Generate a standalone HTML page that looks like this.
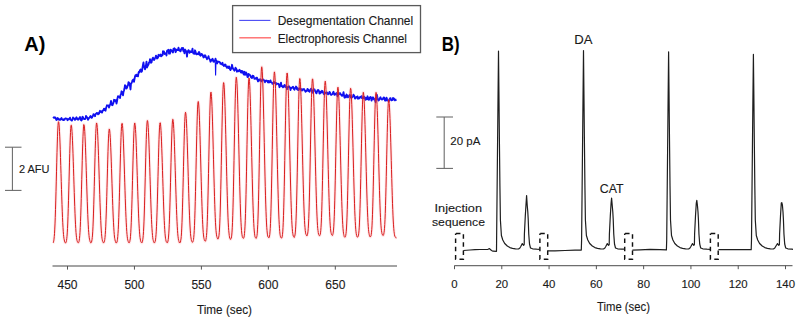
<!DOCTYPE html>
<html><head><meta charset="utf-8"><style>
html,body{margin:0;padding:0;background:#fff;width:800px;height:321px;overflow:hidden}
svg{display:block}
text{font-family:"Liberation Sans", sans-serif}
</style></head><body>
<svg width="800" height="321" viewBox="0 0 800 321">
<rect width="800" height="321" fill="#fff"/>
<text x="24.3" y="51.2" font-size="20" text-anchor="start" font-weight="bold" fill="#000">A)</text>
<rect x="232.6" y="5.6" width="187.9" height="47" fill="none" stroke="#5a5a5a" stroke-width="1.3"/>
<line x1="239.2" y1="20.4" x2="270.4" y2="20.4" stroke="#4848f4" stroke-width="1.1"/>
<line x1="239.3" y1="37.8" x2="271" y2="37.8" stroke="#ff6a6a" stroke-width="1.4"/>
<text x="277.7" y="24.6" font-size="12.2" text-anchor="start" font-weight="normal" fill="#1a1a1a" textLength="135.5" lengthAdjust="spacingAndGlyphs" stroke="#1a1a1a" stroke-width="0.12">Desegmentation Channel</text>
<text x="277.7" y="42.6" font-size="12.2" text-anchor="start" font-weight="normal" fill="#1a1a1a" textLength="129.3" lengthAdjust="spacingAndGlyphs" stroke="#1a1a1a" stroke-width="0.12">Electrophoresis Channel</text>
<g stroke="#666" stroke-width="1.05" fill="none"><line x1="12.4" y1="147.2" x2="12.4" y2="190.4"/><line x1="5" y1="147.2" x2="21.5" y2="147.2"/><line x1="5" y1="190.4" x2="21.5" y2="190.4"/></g>
<text x="19" y="173" font-size="11.2" text-anchor="start" font-weight="normal" fill="#1a1a1a" textLength="30.5" lengthAdjust="spacingAndGlyphs" stroke="#1a1a1a" stroke-width="0.12">2 AFU</text>
<line x1="52.5" y1="266.1" x2="397" y2="266.1" stroke="#858585" stroke-width="1.5"/>
<line x1="67.50" y1="266" x2="67.50" y2="269.6" stroke="#555" stroke-width="1"/>
<text x="67.5" y="288.8" font-size="12" text-anchor="middle" font-weight="normal" fill="#1a1a1a" stroke="#1a1a1a" stroke-width="0.12">450</text>
<line x1="134.45" y1="266" x2="134.45" y2="269.6" stroke="#555" stroke-width="1"/>
<text x="134.45" y="288.8" font-size="12" text-anchor="middle" font-weight="normal" fill="#1a1a1a" stroke="#1a1a1a" stroke-width="0.12">500</text>
<line x1="201.40" y1="266" x2="201.40" y2="269.6" stroke="#555" stroke-width="1"/>
<text x="201.4" y="288.8" font-size="12" text-anchor="middle" font-weight="normal" fill="#1a1a1a" stroke="#1a1a1a" stroke-width="0.12">550</text>
<line x1="268.35" y1="266" x2="268.35" y2="269.6" stroke="#555" stroke-width="1"/>
<text x="268.35" y="288.8" font-size="12" text-anchor="middle" font-weight="normal" fill="#1a1a1a" stroke="#1a1a1a" stroke-width="0.12">600</text>
<line x1="335.30" y1="266" x2="335.30" y2="269.6" stroke="#555" stroke-width="1"/>
<text x="335.3" y="288.8" font-size="12" text-anchor="middle" font-weight="normal" fill="#1a1a1a" stroke="#1a1a1a" stroke-width="0.12">650</text>
<text x="197" y="314" font-size="12" text-anchor="start" font-weight="normal" fill="#1a1a1a" textLength="55" lengthAdjust="spacingAndGlyphs" stroke="#1a1a1a" stroke-width="0.12">Time (sec)</text>
<path d="M53.0,118.1 L53.5,117.7 L54.0,117.3 L54.5,117.8 L55.0,117.3 L55.5,118.1 L56.0,119.0 L56.5,120.0 L57.0,118.9 L57.5,118.0 L58.0,118.3 L58.5,119.6 L59.0,119.2 L59.5,119.7 L60.0,120.0 L60.5,119.0 L61.0,118.7 L61.5,118.0 L62.0,119.4 L62.5,119.7 L63.0,119.5 L63.5,120.1 L64.0,119.1 L64.5,119.7 L65.0,118.7 L65.5,118.4 L66.0,118.6 L66.5,118.7 L67.0,118.7 L67.5,120.2 L68.0,119.7 L68.5,119.4 L69.0,118.8 L69.5,118.5 L70.0,117.6 L70.5,119.7 L71.0,119.8 L71.5,120.6 L72.0,120.5 L72.5,119.0 L73.0,117.5 L73.5,118.1 L74.0,118.3 L74.5,119.3 L75.0,119.9 L75.5,118.5 L76.0,118.9 L76.5,117.3 L77.0,118.4 L77.5,119.1 L78.0,119.8 L78.5,119.5 L79.0,118.6 L79.5,117.8 L80.0,117.1 L80.5,118.6 L81.0,120.1 L81.5,120.5 L82.0,119.3 L82.5,116.8 L83.0,117.2 L83.5,118.7 L84.0,118.6 L84.5,119.0 L85.0,119.1 L85.5,118.7 L86.0,115.9 L86.5,117.2 L87.0,117.1 L87.5,117.9 L88.0,119.9 L88.5,118.9 L89.0,118.0 L89.5,117.6 L90.0,116.7 L90.5,116.0 L91.0,116.9 L91.5,117.8 L92.0,117.6 L92.5,116.2 L93.0,116.0 L93.5,114.1 L94.0,114.9 L94.5,114.9 L95.0,116.2 L95.5,114.1 L96.0,113.9 L96.5,113.2 L97.0,112.9 L97.5,113.5 L98.0,114.4 L98.5,113.3 L99.0,113.7 L99.5,112.0 L100.0,110.8 L100.5,112.0 L101.0,111.4 L101.5,111.3 L102.0,112.6 L102.5,111.1 L103.0,110.4 L103.5,110.0 L104.0,108.6 L104.5,110.0 L105.0,109.1 L105.5,110.7 L106.0,108.3 L106.5,106.8 L107.0,105.3 L107.5,105.7 L108.0,105.6 L108.5,105.4 L109.0,107.6 L109.5,105.9 L110.0,104.9 L110.5,103.7 L111.0,100.9 L111.5,103.3 L112.0,105.1 L112.5,105.2 L113.0,103.8 L113.5,102.6 L114.0,99.8 L114.5,99.9 L115.0,100.1 L115.5,101.3 L116.0,100.2 L116.5,103.5 L117.0,101.3 L117.5,98.2 L118.0,96.2 L118.5,96.3 L119.0,96.9 L119.5,96.4 L120.0,98.0 L120.5,95.1 L121.0,94.3 L121.5,91.3 L122.0,91.8 L122.5,93.0 L123.0,95.3 L123.5,91.8 L124.0,90.5 L124.5,88.6 L125.0,85.2 L125.5,85.6 L126.0,87.4 L126.5,88.5 L127.0,87.8 L127.5,86.2 L128.0,85.2 L128.5,82.1 L129.0,82.6 L129.5,84.5 L130.0,85.8 L130.5,89.5 L131.0,83.7 L131.5,83.1 L132.0,81.8 L132.5,80.3 L133.0,79.8 L133.5,79.5 L134.0,81.8 L134.5,79.1 L135.0,76.5 L135.5,75.2 L136.0,76.0 L136.5,74.6 L137.0,76.1 L137.5,75.2 L138.0,76.4 L138.5,72.9 L139.0,71.6 L139.5,72.2 L140.0,70.2 L140.5,69.4 L141.0,70.9 L141.5,71.9 L142.0,71.0 L142.5,67.6 L143.0,64.8 L143.5,62.5 L144.0,66.8 L144.5,67.6 L145.0,69.3 L145.5,66.6 L146.0,65.1 L146.5,61.7 L147.0,67.5 L147.5,66.2 L148.0,65.3 L148.5,64.5 L149.0,62.4 L149.5,62.3 L150.0,59.2 L150.5,61.1 L151.0,62.8 L151.5,62.5 L152.0,60.0 L152.5,58.7 L153.0,57.7 L153.5,59.3 L154.0,60.1 L154.5,59.3 L155.0,58.2 L155.5,57.0 L156.0,55.6 L156.5,56.6 L157.0,58.5 L157.5,57.5 L158.0,57.7 L158.5,54.8 L159.0,55.7 L159.5,55.9 L160.0,55.6 L160.5,54.5 L161.0,56.3 L161.5,56.1 L162.0,54.9 L162.5,55.2 L163.0,51.2 L163.5,52.3 L164.0,51.6 L164.5,54.0 L165.0,53.8 L165.5,53.3 L166.0,53.2 L166.5,55.5 L167.0,50.8 L167.5,50.3 L168.0,50.4 L168.5,49.8 L169.0,53.7 L169.5,53.0 L170.0,53.5 L170.5,49.6 L171.0,50.5 L171.5,50.2 L172.0,51.1 L172.5,52.1 L173.0,52.5 L173.5,48.8 L174.0,49.8 L174.5,48.3 L175.0,48.8 L175.5,52.2 L176.0,51.3 L176.5,49.7 L177.0,49.6 L177.5,50.0 L178.0,50.0 L178.5,47.7 L179.0,49.3 L179.5,50.6 L180.0,50.2 L180.5,51.4 L181.0,49.9 L181.5,48.5 L182.0,47.9 L182.5,49.5 L183.0,48.0 L183.5,51.4 L184.0,50.6 L184.5,53.4 L185.0,49.5 L185.5,50.2 L186.0,51.4 L186.5,52.2 L187.0,56.7 L187.5,51.1 L188.0,51.4 L188.5,50.1 L189.0,51.7 L189.5,52.9 L190.0,51.2 L190.5,51.8 L191.0,52.1 L191.5,52.0 L192.0,51.0 L192.5,48.7 L193.0,52.5 L193.5,53.5 L194.0,53.8 L194.5,53.8 L195.0,50.3 L195.5,51.5 L196.0,53.8 L196.5,54.3 L197.0,54.4 L197.5,53.5 L198.0,54.0 L198.5,54.3 L199.0,52.0 L199.5,52.8 L200.0,55.1 L200.5,55.7 L201.0,55.3 L201.5,53.9 L202.0,54.3 L202.5,54.7 L203.0,56.2 L203.5,57.5 L204.0,57.2 L204.5,55.7 L205.0,55.2 L205.5,55.9 L206.0,57.4 L206.5,57.9 L207.0,59.3 L207.5,57.8 L208.0,57.8 L208.5,56.2 L209.0,58.1 L209.5,59.2 L210.0,59.8 L210.5,61.7 L211.0,60.2 L211.5,60.6 L212.0,59.5 L212.5,58.7 L213.0,59.9 L213.5,61.7 L214.0,61.8 L214.5,61.2 L215.0,60.5 L215.5,58.7 L216.0,60.9 L216.5,60.5 L217.0,63.5 L217.5,62.5 L218.0,61.9 L218.5,61.6 L219.0,61.9 L219.5,61.9 L220.0,62.5 L220.5,63.9 L221.0,63.5 L221.5,63.7 L222.0,64.5 L222.5,62.8 L223.0,65.1 L223.5,65.0 L224.0,66.0 L224.5,64.9 L225.0,64.5 L225.5,64.6 L226.0,66.5 L226.5,66.8 L227.0,67.7 L227.5,66.5 L228.0,67.0 L228.5,68.1 L229.0,66.4 L229.5,66.9 L230.0,69.2 L230.5,70.1 L231.0,68.4 L231.5,68.5 L232.0,64.8 L232.5,67.0 L233.0,68.5 L233.5,69.2 L234.0,69.9 L234.5,70.7 L235.0,69.6 L235.5,67.7 L236.0,68.5 L236.5,69.5 L237.0,71.7 L237.5,71.1 L238.0,70.6 L238.5,71.3 L239.0,70.8 L239.5,69.8 L240.0,70.5 L240.5,71.7 L241.0,72.5 L241.5,71.0 L242.0,72.6 L242.5,71.1 L243.0,72.3 L243.5,74.0 L244.0,74.6 L244.5,71.8 L245.0,74.9 L245.5,74.3 L246.0,72.4 L246.5,73.2 L247.0,74.9 L247.5,77.1 L248.0,77.0 L248.5,74.0 L249.0,74.5 L249.5,74.7 L250.0,75.0 L250.5,76.2 L251.0,77.3 L251.5,77.5 L252.0,78.1 L252.5,75.6 L253.0,76.2 L253.5,76.0 L254.0,77.5 L254.5,78.8 L255.0,78.5 L255.5,78.3 L256.0,78.8 L256.5,77.7 L257.0,77.6 L257.5,79.9 L258.0,81.4 L258.5,79.6 L259.0,79.8 L259.5,80.6 L260.0,79.2 L260.5,79.6 L261.0,80.7 L261.5,81.3 L262.0,80.5 L262.5,79.7 L263.0,79.8 L263.5,79.5 L264.0,80.3 L264.5,80.9 L265.0,82.3 L265.5,80.9 L266.0,80.6 L266.5,80.9 L267.0,80.7 L267.5,81.6 L268.0,82.4 L268.5,80.9 L269.0,82.6 L269.5,81.8 L270.0,82.0 L270.5,80.5 L271.0,82.2 L271.5,82.5 L272.0,82.7 L272.5,83.8 L273.0,83.2 L273.5,83.2 L274.0,81.9 L274.5,82.9 L275.0,83.0 L275.5,82.9 L276.0,84.6 L276.5,83.2 L277.0,83.9 L277.5,83.8 L278.0,83.9 L278.5,83.8 L279.0,85.1 L279.5,87.2 L280.0,85.7 L280.5,84.8 L281.0,82.6 L281.5,86.1 L282.0,86.3 L282.5,86.2 L283.0,87.3 L283.5,87.0 L284.0,85.9 L284.5,85.0 L285.0,85.1 L285.5,87.1 L286.0,86.3 L286.5,87.2 L287.0,89.2 L287.5,87.1 L288.0,87.1 L288.5,86.5 L289.0,86.3 L289.5,87.4 L290.0,87.5 L290.5,90.0 L291.0,88.0 L291.5,88.1 L292.0,87.9 L292.5,87.0 L293.0,86.7 L293.5,87.9 L294.0,89.1 L294.5,89.8 L295.0,88.1 L295.5,87.8 L296.0,86.5 L296.5,87.1 L297.0,89.4 L297.5,88.2 L298.0,90.1 L298.5,90.0 L299.0,89.2 L299.5,88.3 L300.0,88.4 L300.5,88.8 L301.0,89.7 L301.5,89.2 L302.0,90.6 L302.5,89.7 L303.0,89.2 L303.5,89.2 L304.0,89.0 L304.5,90.3 L305.0,90.4 L305.5,91.8 L306.0,91.4 L306.5,91.0 L307.0,90.5 L307.5,88.9 L308.0,89.6 L308.5,91.0 L309.0,90.3 L309.5,91.8 L310.0,90.6 L310.5,89.7 L311.0,88.7 L311.5,90.1 L312.0,91.3 L312.5,92.7 L313.0,92.3 L313.5,89.1 L314.0,90.3 L314.5,89.4 L315.0,91.0 L315.5,91.4 L316.0,92.8 L316.5,93.3 L317.0,91.7 L317.5,90.3 L318.0,90.0 L318.5,90.1 L319.0,91.1 L319.5,93.5 L320.0,93.4 L320.5,91.7 L321.0,92.6 L321.5,92.4 L322.0,90.8 L322.5,91.0 L323.0,92.1 L323.5,93.4 L324.0,94.2 L324.5,93.9 L325.0,93.3 L325.5,92.8 L326.0,92.5 L326.5,92.9 L327.0,92.4 L327.5,93.9 L328.0,94.4 L328.5,93.2 L329.0,93.3 L329.5,91.9 L330.0,92.5 L330.5,94.4 L331.0,94.8 L331.5,94.8 L332.0,94.4 L332.5,93.7 L333.0,92.7 L333.5,91.8 L334.0,93.8 L334.5,94.9 L335.0,94.1 L335.5,94.3 L336.0,94.1 L336.5,93.0 L337.0,93.6 L337.5,96.3 L338.0,95.3 L338.5,93.9 L339.0,94.1 L339.5,94.0 L340.0,93.0 L340.5,94.5 L341.0,94.3 L341.5,94.8 L342.0,95.9 L342.5,95.7 L343.0,94.1 L343.5,92.2 L344.0,95.1 L344.5,97.7 L345.0,95.9 L345.5,96.7 L346.0,97.3 L346.5,94.5 L347.0,95.1 L347.5,96.1 L348.0,97.4 L348.5,97.0 L349.0,95.8 L349.5,95.0 L350.0,95.2 L350.5,96.2 L351.0,97.6 L351.5,97.7 L352.0,97.3 L352.5,97.1 L353.0,95.9 L353.5,94.6 L354.0,95.6 L354.5,96.3 L355.0,98.6 L355.5,97.3 L356.0,97.9 L356.5,97.0 L357.0,97.4 L357.5,96.4 L358.0,98.7 L358.5,97.6 L359.0,98.5 L359.5,98.2 L360.0,97.0 L360.5,97.1 L361.0,97.4 L361.5,96.1 L362.0,98.2 L362.5,98.4 L363.0,98.1 L363.5,97.7 L364.0,96.7 L364.5,98.2 L365.0,97.5 L365.5,99.9 L366.0,98.2 L366.5,97.8 L367.0,99.1 L367.5,96.3 L368.0,98.2 L368.5,99.7 L369.0,99.8 L369.5,98.0 L370.0,97.5 L370.5,97.0 L371.0,97.5 L371.5,100.6 L372.0,99.3 L372.5,98.7 L373.0,97.3 L373.5,98.0 L374.0,99.5 L374.5,98.9 L375.0,100.2 L375.5,102.1 L376.0,98.4 L376.5,99.1 L377.0,95.0 L377.5,98.3 L378.0,99.6 L378.5,100.5 L379.0,100.1 L379.5,99.3 L380.0,98.0 L380.5,97.2 L381.0,98.8 L381.5,99.0 L382.0,99.5 L382.5,99.4 L383.0,99.0 L383.5,97.6 L384.0,97.4 L384.5,98.3 L385.0,100.6 L385.5,100.3 L386.0,100.5 L386.5,97.7 L387.0,98.9 L387.5,100.6 L388.0,100.5 L388.5,100.6 L389.0,101.0 L389.5,99.2 L390.0,98.4 L390.5,98.1 L391.0,99.9 L391.5,100.4 L392.0,100.2 L392.5,99.9 L393.0,98.0 L393.5,99.2 L394.0,98.5 L394.5,99.8 L395.0,100.4 L395.5,99.6 L396.0,99.9 L396.5,99.6" fill="none" stroke="#1010f0" stroke-width="1.85" stroke-linejoin="round"/>
<path d="M215.3,62 L215.6,75.5 L215.9,63" fill="none" stroke="#1010f0" stroke-width="1.1"/>
<path d="M53.00,242.85 L53.25,242.70 L53.50,241.86 L53.75,240.87 L54.00,239.13 L54.25,236.61 L54.50,233.70 L54.75,229.10 L55.00,223.94 L55.25,217.35 L55.50,209.41 L55.75,200.96 L56.00,191.72 L56.25,181.87 L56.50,171.81 L56.75,162.19 L57.00,152.57 L57.25,143.97 L57.50,136.24 L57.75,130.10 L58.00,125.31 L58.25,122.56 L58.50,121.69 L58.75,122.25 L59.00,124.08 L59.25,127.10 L59.50,131.54 L59.75,136.85 L60.00,142.93 L60.25,149.78 L60.50,157.47 L60.75,165.65 L61.00,173.34 L61.25,181.58 L61.50,189.61 L61.75,196.89 L62.00,204.58 L62.25,211.20 L62.50,217.61 L62.75,222.74 L63.00,227.30 L63.25,231.26 L63.50,234.46 L63.75,236.80 L64.00,238.73 L64.25,239.90 L64.50,241.06 L64.75,241.95 L65.00,242.66 L65.25,242.80 L65.50,242.84 L65.75,242.86 L66.00,242.44 L66.25,241.81 L66.50,240.58 L66.75,238.68 L67.00,236.29 L67.25,232.92 L67.50,228.55 L67.75,223.05 L68.00,216.33 L68.25,208.55 L68.50,200.30 L68.75,190.95 L69.00,181.69 L69.25,171.96 L69.50,162.15 L69.75,153.44 L70.00,145.21 L70.25,137.96 L70.50,132.43 L70.75,128.29 L71.00,125.42 L71.25,125.18 L71.50,125.96 L71.75,128.05 L72.00,131.38 L72.25,135.47 L72.50,140.80 L72.75,146.92 L73.00,153.77 L73.25,161.24 L73.50,168.76 L73.75,176.72 L74.00,184.86 L74.25,192.50 L74.50,200.00 L74.75,206.65 L75.00,213.24 L75.25,219.07 L75.50,224.24 L75.75,228.51 L76.00,232.36 L76.25,235.12 L76.50,237.40 L76.75,239.10 L77.00,240.45 L77.25,241.20 L77.50,242.12 L77.75,242.51 L78.00,242.75 L78.25,242.80 L78.50,242.71 L78.75,242.33 L79.00,241.51 L79.25,240.17 L79.50,238.39 L79.75,235.65 L80.00,232.26 L80.25,227.45 L80.50,221.42 L80.75,215.12 L81.00,207.13 L81.25,198.30 L81.50,189.16 L81.75,179.39 L82.00,170.09 L82.25,160.34 L82.50,151.07 L82.75,143.30 L83.00,136.25 L83.25,131.12 L83.50,126.83 L83.75,124.60 L84.00,124.71 L84.25,125.77 L84.50,128.09 L84.75,131.33 L85.00,136.27 L85.25,141.97 L85.50,147.76 L85.75,155.20 L86.00,162.42 L86.25,170.66 L86.50,178.31 L86.75,186.12 L87.00,194.03 L87.25,201.32 L87.50,208.06 L87.75,214.59 L88.00,220.07 L88.25,224.84 L88.50,229.64 L88.75,232.77 L89.00,235.52 L89.25,237.81 L89.50,239.14 L89.75,240.35 L90.00,241.34 L90.25,241.99 L90.50,242.53 L90.75,242.93 L91.00,242.71 L91.25,242.64 L91.50,242.13 L91.75,240.99 L92.00,239.81 L92.25,237.61 L92.50,235.07 L92.75,231.16 L93.00,226.19 L93.25,219.96 L93.50,213.07 L93.75,204.84 L94.00,196.15 L94.25,186.52 L94.50,176.58 L94.75,166.98 L95.00,157.39 L95.25,148.26 L95.50,140.55 L95.75,133.59 L96.00,128.35 L96.25,124.88 L96.50,123.04 L96.75,123.16 L97.00,124.59 L97.25,127.45 L97.50,131.21 L97.75,135.77 L98.00,141.81 L98.25,148.12 L98.50,155.38 L98.75,163.12 L99.00,170.98 L99.25,179.35 L99.50,187.02 L99.75,194.56 L100.00,202.33 L100.25,208.96 L100.50,215.27 L100.75,220.48 L101.00,225.96 L101.25,230.06 L101.50,233.45 L101.75,236.17 L102.00,238.33 L102.25,239.60 L102.50,240.87 L102.75,241.45 L103.00,242.12 L103.25,242.74 L103.50,242.84 L103.75,242.56 L104.00,242.54 L104.25,241.88 L104.50,240.84 L104.75,239.60 L105.00,237.41 L105.25,234.36 L105.50,230.60 L105.75,226.17 L106.00,219.74 L106.25,213.06 L106.50,205.26 L106.75,196.67 L107.00,187.28 L107.25,178.05 L107.50,168.79 L107.75,159.91 L108.00,151.37 L108.25,143.94 L108.50,138.13 L108.75,133.49 L109.00,130.36 L109.25,128.94 L109.50,129.45 L109.75,130.95 L110.00,133.76 L110.25,137.23 L110.50,142.20 L110.75,147.80 L111.00,154.01 L111.25,161.15 L111.50,168.46 L111.75,175.97 L112.00,183.74 L112.25,191.02 L112.50,198.54 L112.75,205.54 L113.00,211.95 L113.25,217.92 L113.50,222.77 L113.75,227.21 L114.00,231.25 L114.25,234.37 L114.50,237.05 L114.75,238.67 L115.00,239.82 L115.25,241.08 L115.50,241.59 L115.75,242.05 L116.00,243.03 L116.25,242.84 L116.50,242.83 L116.75,242.48 L117.00,242.01 L117.25,240.71 L117.50,239.23 L117.75,236.57 L118.00,233.30 L118.25,229.48 L118.50,224.13 L118.75,217.52 L119.00,209.96 L119.25,201.50 L119.50,192.20 L119.75,182.85 L120.00,172.84 L120.25,163.04 L120.50,153.67 L120.75,145.18 L121.00,137.59 L121.25,131.46 L121.50,126.60 L121.75,124.03 L122.00,123.33 L122.25,123.55 L122.50,125.49 L122.75,128.73 L123.00,132.94 L123.25,138.10 L123.50,143.87 L123.75,151.02 L124.00,158.17 L124.25,166.02 L124.50,174.23 L124.75,182.16 L125.00,190.24 L125.25,198.23 L125.50,205.07 L125.75,211.73 L126.00,217.51 L126.25,222.87 L126.50,227.39 L126.75,231.30 L127.00,234.32 L127.25,236.81 L127.50,238.72 L127.75,239.95 L128.00,240.88 L128.25,241.62 L128.50,242.43 L128.75,242.70 L129.00,242.95 L129.25,242.84 L129.50,242.24 L129.75,241.66 L130.00,240.17 L130.25,238.99 L130.50,236.34 L130.75,232.71 L131.00,228.11 L131.25,222.76 L131.50,215.74 L131.75,208.19 L132.00,199.81 L132.25,190.41 L132.50,180.58 L132.75,170.91 L133.00,160.89 L133.25,151.87 L133.50,143.35 L133.75,136.04 L134.00,130.37 L134.25,125.91 L134.50,123.90 L134.75,122.94 L135.00,124.21 L135.25,125.87 L135.50,129.44 L135.75,133.58 L136.00,138.96 L136.25,145.45 L136.50,152.48 L136.75,159.69 L137.00,167.91 L137.25,175.65 L137.50,183.82 L137.75,191.73 L138.00,199.32 L138.25,206.07 L138.50,213.12 L138.75,218.85 L139.00,223.88 L139.25,228.22 L139.50,231.80 L139.75,234.82 L140.00,237.41 L140.25,239.00 L140.50,240.15 L140.75,241.18 L141.00,242.18 L141.25,242.39 L141.50,242.64 L141.75,243.00 L142.00,242.70 L142.25,242.17 L142.50,241.26 L142.75,239.82 L143.00,237.97 L143.25,235.35 L143.50,231.70 L143.75,227.00 L144.00,221.10 L144.25,214.00 L144.50,205.92 L144.75,196.78 L145.00,186.99 L145.25,177.22 L145.50,167.06 L145.75,157.25 L146.00,148.02 L146.25,139.50 L146.50,132.37 L146.75,126.84 L147.00,122.90 L147.25,120.65 L147.50,120.58 L147.75,121.63 L148.00,123.93 L148.25,127.71 L148.50,132.70 L148.75,138.03 L149.00,144.86 L149.25,152.13 L149.50,159.89 L149.75,167.62 L150.00,176.27 L150.25,184.18 L150.50,192.12 L150.75,199.76 L151.00,207.04 L151.25,213.52 L151.50,219.36 L151.75,224.72 L152.00,228.79 L152.25,232.36 L152.50,235.52 L152.75,237.74 L153.00,239.46 L153.25,240.35 L153.50,241.56 L153.75,242.13 L154.00,242.78 L154.25,242.57 L154.50,242.81 L154.75,242.52 L155.00,241.80 L155.25,241.04 L155.50,239.93 L155.75,237.67 L156.00,234.78 L156.25,231.19 L156.50,226.28 L156.75,220.24 L157.00,212.84 L157.25,204.83 L157.50,196.05 L157.75,186.25 L158.00,176.37 L158.25,166.71 L158.50,157.23 L158.75,147.86 L159.00,139.64 L159.25,133.06 L159.50,127.87 L159.75,124.45 L160.00,122.85 L160.25,122.81 L160.50,124.11 L160.75,126.86 L161.00,130.47 L161.25,135.44 L161.50,141.14 L161.75,148.22 L162.00,155.16 L162.25,162.60 L162.50,170.55 L162.75,178.71 L163.00,186.55 L163.25,194.48 L163.50,201.89 L163.75,209.05 L164.00,215.16 L164.25,220.74 L164.50,225.55 L164.75,229.72 L165.00,233.29 L165.25,235.97 L165.50,238.24 L165.75,239.51 L166.00,240.89 L166.25,241.60 L166.50,242.17 L166.75,242.28 L167.00,242.59 L167.25,242.87 L167.50,242.69 L167.75,241.92 L168.00,241.00 L168.25,239.30 L168.50,237.07 L168.75,233.91 L169.00,230.01 L169.25,224.63 L169.50,218.10 L169.75,210.55 L170.00,202.16 L170.25,192.80 L170.50,182.73 L170.75,172.95 L171.00,162.60 L171.25,152.82 L171.50,144.01 L171.75,135.95 L172.00,129.14 L172.25,124.17 L172.50,120.65 L172.75,119.34 L173.00,119.48 L173.25,121.68 L173.50,124.15 L173.75,128.64 L174.00,133.59 L174.25,139.68 L174.50,146.70 L174.75,154.30 L175.00,162.31 L175.25,170.71 L175.50,178.80 L175.75,187.08 L176.00,194.79 L176.25,202.51 L176.50,209.41 L176.75,215.67 L177.00,221.35 L177.25,226.23 L177.50,230.38 L177.75,233.75 L178.00,236.25 L178.25,238.22 L178.50,239.92 L178.75,240.64 L179.00,241.59 L179.25,242.50 L179.50,242.23 L179.75,242.69 L180.00,242.83 L180.25,242.13 L180.50,242.06 L180.75,240.14 L181.00,239.00 L181.25,236.48 L181.50,232.88 L181.75,228.08 L182.00,222.33 L182.25,215.09 L182.50,207.15 L182.75,197.66 L183.00,187.79 L183.25,177.44 L183.50,166.36 L183.75,155.83 L184.00,145.74 L184.25,136.17 L184.50,128.36 L184.75,121.54 L185.00,116.28 L185.25,113.43 L185.50,112.28 L185.75,112.99 L186.00,115.14 L186.25,118.37 L186.50,123.19 L186.75,128.61 L187.00,135.49 L187.25,142.77 L187.50,150.94 L187.75,159.20 L188.00,167.91 L188.25,176.56 L188.50,185.42 L188.75,193.76 L189.00,201.75 L189.25,208.86 L189.50,215.24 L189.75,220.94 L190.00,226.00 L190.25,230.09 L190.50,233.67 L190.75,236.22 L191.00,237.93 L191.25,239.40 L191.50,240.76 L191.75,241.36 L192.00,241.82 L192.25,242.35 L192.50,242.20 L192.75,242.08 L193.00,241.62 L193.25,240.57 L193.50,239.65 L193.75,237.31 L194.00,234.47 L194.25,230.42 L194.50,225.37 L194.75,218.67 L195.00,210.80 L195.25,201.45 L195.50,191.54 L195.75,180.38 L196.00,169.17 L196.25,157.54 L196.50,146.04 L196.75,135.50 L197.00,125.40 L197.25,116.87 L197.50,109.90 L197.75,104.87 L198.00,102.16 L198.25,101.49 L198.50,102.17 L198.75,105.02 L199.00,108.83 L199.25,114.08 L199.50,120.35 L199.75,127.44 L200.00,135.62 L200.25,144.86 L200.50,153.83 L200.75,163.00 L201.00,172.69 L201.25,181.80 L201.50,190.43 L201.75,198.69 L202.00,206.45 L202.25,213.62 L202.50,219.62 L202.75,224.77 L203.00,229.15 L203.25,232.65 L203.50,234.92 L203.75,237.18 L204.00,238.55 L204.25,239.53 L204.50,240.37 L204.75,240.93 L205.00,241.19 L205.25,241.03 L205.50,240.95 L205.75,240.77 L206.00,239.33 L206.25,237.67 L206.50,235.62 L206.75,232.33 L207.00,227.78 L207.25,221.68 L207.50,214.74 L207.75,205.85 L208.00,195.94 L208.25,185.09 L208.50,173.46 L208.75,161.40 L209.00,149.10 L209.25,137.02 L209.50,125.89 L209.75,115.60 L210.00,107.04 L210.25,99.81 L210.50,94.97 L210.75,92.74 L211.00,92.12 L211.25,93.68 L211.50,96.64 L211.75,100.95 L212.00,106.66 L212.25,113.83 L212.50,121.15 L212.75,130.39 L213.00,139.94 L213.25,149.33 L213.50,159.22 L213.75,169.18 L214.00,178.96 L214.25,187.68 L214.50,196.45 L214.75,204.27 L215.00,211.41 L215.25,217.49 L215.50,222.78 L215.75,226.92 L216.00,230.41 L216.25,232.92 L216.50,234.85 L216.75,236.31 L217.00,237.28 L217.25,237.86 L217.50,238.76 L217.75,238.77 L218.00,238.61 L218.25,238.76 L218.50,237.91 L218.75,237.04 L219.00,235.24 L219.25,232.70 L219.50,229.00 L219.75,223.90 L220.00,217.58 L220.25,209.99 L220.50,200.03 L220.75,189.77 L221.00,178.15 L221.25,165.46 L221.50,152.52 L221.75,140.12 L222.00,127.20 L222.25,115.86 L222.50,105.17 L222.75,96.27 L223.00,89.46 L223.25,84.84 L223.50,82.68 L223.75,82.66 L224.00,84.44 L224.25,87.87 L224.50,92.98 L224.75,99.23 L225.00,106.53 L225.25,115.19 L225.50,124.79 L225.75,134.70 L226.00,145.18 L226.25,155.67 L226.50,166.27 L226.75,176.57 L227.00,186.37 L227.25,195.28 L227.50,203.86 L227.75,210.91 L228.00,217.82 L228.25,222.92 L228.50,227.31 L228.75,230.70 L229.00,233.06 L229.25,235.45 L229.50,236.93 L229.75,238.21 L230.00,238.42 L230.25,239.34 L230.50,239.21 L230.75,239.31 L231.00,238.50 L231.25,238.20 L231.50,236.89 L231.75,235.09 L232.00,232.10 L232.25,227.82 L232.50,222.67 L232.75,215.67 L233.00,207.18 L233.25,197.32 L233.50,186.11 L233.75,173.68 L234.00,160.47 L234.25,147.10 L234.50,134.20 L234.75,121.30 L235.00,109.34 L235.25,98.77 L235.50,90.11 L235.75,83.46 L236.00,79.10 L236.25,77.25 L236.50,78.17 L236.75,80.09 L237.00,83.81 L237.25,89.09 L237.50,95.96 L237.75,104.20 L238.00,113.25 L238.25,122.97 L238.50,133.45 L238.75,144.17 L239.00,154.92 L239.25,166.02 L239.50,176.27 L239.75,186.43 L240.00,195.08 L240.25,203.47 L240.50,210.99 L240.75,217.19 L241.00,222.37 L241.25,226.80 L241.50,230.38 L241.75,233.01 L242.00,234.83 L242.25,236.33 L242.50,237.27 L242.75,237.80 L243.00,238.14 L243.25,238.26 L243.50,238.31 L243.75,238.00 L244.00,237.10 L244.25,235.82 L244.50,233.62 L244.75,230.38 L245.00,226.15 L245.25,220.72 L245.50,213.50 L245.75,204.99 L246.00,194.67 L246.25,183.45 L246.50,171.20 L246.75,158.17 L247.00,144.66 L247.25,131.60 L247.50,119.10 L247.75,107.41 L248.00,97.55 L248.25,89.36 L248.50,82.99 L248.75,79.57 L249.00,77.96 L249.25,78.82 L249.50,81.34 L249.75,85.40 L250.00,91.21 L250.25,98.15 L250.50,106.58 L250.75,115.59 L251.00,125.52 L251.25,135.87 L251.50,146.44 L251.75,157.44 L252.00,167.95 L252.25,178.47 L252.50,187.99 L252.75,197.18 L253.00,205.13 L253.25,212.29 L253.50,218.34 L253.75,223.48 L254.00,227.71 L254.25,231.01 L254.50,233.20 L254.75,235.16 L255.00,236.74 L255.25,237.22 L255.50,237.80 L255.75,238.08 L256.00,238.08 L256.25,238.34 L256.50,237.72 L256.75,236.83 L257.00,235.51 L257.25,233.19 L257.50,229.14 L257.75,224.54 L258.00,218.07 L258.25,210.02 L258.50,200.43 L258.75,189.27 L259.00,177.14 L259.25,163.64 L259.50,149.61 L259.75,135.55 L260.00,121.54 L260.25,108.24 L260.50,96.17 L260.75,85.96 L261.00,77.35 L261.25,71.18 L261.50,67.55 L261.75,66.79 L262.00,67.95 L262.25,71.17 L262.50,75.94 L262.75,81.92 L263.00,89.98 L263.25,99.05 L263.50,108.96 L263.75,119.54 L264.00,131.13 L264.25,142.35 L264.50,153.79 L264.75,165.09 L265.00,176.08 L265.25,186.40 L265.50,195.80 L265.75,204.09 L266.00,211.29 L266.25,217.71 L266.50,222.94 L266.75,227.28 L267.00,230.32 L267.25,233.04 L267.50,234.87 L267.75,235.98 L268.00,236.92 L268.25,237.29 L268.50,237.53 L268.75,237.73 L269.00,237.83 L269.25,237.30 L269.50,236.09 L269.75,234.69 L270.00,231.94 L270.25,228.56 L270.50,223.42 L270.75,216.79 L271.00,208.92 L271.25,199.11 L271.50,188.10 L271.75,175.85 L272.00,163.03 L272.25,149.38 L272.50,135.64 L272.75,122.19 L273.00,109.85 L273.25,98.18 L273.50,88.40 L273.75,80.97 L274.00,75.59 L274.25,72.53 L274.50,71.88 L274.75,73.63 L275.00,77.10 L275.25,81.94 L275.50,88.60 L275.75,95.93 L276.00,105.16 L276.25,114.82 L276.50,125.66 L276.75,136.45 L277.00,147.82 L277.25,158.73 L277.50,169.50 L277.75,179.96 L278.00,189.78 L278.25,198.66 L278.50,207.00 L278.75,214.03 L279.00,219.84 L279.25,224.57 L279.50,228.65 L279.75,231.60 L280.00,234.16 L280.25,235.61 L280.50,236.77 L280.75,237.43 L281.00,237.70 L281.25,238.12 L281.50,238.07 L281.75,238.04 L282.00,237.37 L282.25,236.11 L282.50,234.34 L282.75,231.88 L283.00,227.58 L283.25,222.30 L283.50,215.60 L283.75,207.17 L284.00,197.36 L284.25,186.28 L284.50,174.12 L284.75,160.42 L285.00,147.07 L285.25,133.43 L285.50,120.19 L285.75,107.82 L286.00,96.76 L286.25,87.66 L286.50,80.20 L286.75,75.35 L287.00,73.01 L287.25,73.13 L287.50,75.00 L287.75,78.78 L288.00,83.83 L288.25,90.51 L288.50,98.43 L288.75,107.34 L289.00,117.30 L289.25,127.83 L289.50,138.98 L289.75,149.95 L290.00,160.91 L290.25,171.80 L290.50,182.03 L290.75,191.18 L291.00,200.35 L291.25,207.82 L291.50,214.51 L291.75,220.36 L292.00,224.87 L292.25,228.45 L292.50,231.67 L292.75,233.24 L293.00,234.85 L293.25,236.00 L293.50,236.40 L293.75,236.97 L294.00,237.23 L294.25,237.47 L294.50,236.66 L294.75,236.08 L295.00,234.96 L295.25,232.94 L295.50,229.89 L295.75,226.11 L296.00,220.70 L296.25,213.92 L296.50,205.71 L296.75,195.97 L297.00,184.88 L297.25,172.84 L297.50,159.89 L297.75,146.94 L298.00,133.95 L298.25,121.32 L298.50,109.77 L298.75,99.36 L299.00,91.16 L299.25,84.75 L299.50,80.15 L299.75,78.51 L300.00,78.90 L300.25,81.29 L300.50,84.93 L300.75,90.14 L301.00,96.74 L301.25,104.63 L301.50,113.31 L301.75,123.21 L302.00,133.21 L302.25,143.94 L302.50,154.50 L302.75,165.15 L303.00,175.13 L303.25,184.91 L303.50,193.54 L303.75,201.88 L304.00,208.95 L304.25,215.23 L304.50,220.43 L304.75,224.82 L305.00,227.71 L305.25,230.59 L305.50,232.15 L305.75,233.86 L306.00,234.29 L306.25,235.09 L306.50,235.39 L306.75,236.04 L307.00,235.53 L307.25,235.38 L307.50,234.52 L307.75,233.02 L308.00,231.19 L308.25,228.32 L308.50,223.98 L308.75,218.57 L309.00,211.33 L309.25,202.88 L309.50,192.93 L309.75,181.92 L310.00,170.07 L310.25,157.11 L310.50,144.08 L310.75,131.09 L311.00,118.77 L311.25,107.80 L311.50,97.53 L311.75,89.45 L312.00,83.55 L312.25,79.79 L312.50,78.89 L312.75,79.08 L313.00,81.96 L313.25,86.07 L313.50,91.32 L313.75,98.25 L314.00,106.44 L314.25,115.61 L314.50,124.97 L314.75,135.13 L315.00,146.06 L315.25,156.73 L315.50,166.87 L315.75,176.63 L316.00,186.66 L316.25,195.18 L316.50,203.31 L316.75,210.14 L317.00,216.12 L317.25,221.15 L317.50,225.52 L317.75,228.70 L318.00,230.56 L318.25,232.49 L318.50,234.13 L318.75,234.69 L319.00,235.13 L319.25,235.68 L319.50,235.76 L319.75,235.64 L320.00,235.14 L320.25,234.30 L320.50,232.85 L320.75,230.77 L321.00,227.41 L321.25,223.08 L321.50,217.34 L321.75,210.35 L322.00,201.57 L322.25,191.53 L322.50,180.50 L322.75,168.47 L323.00,155.99 L323.25,143.13 L323.50,130.78 L323.75,118.81 L324.00,107.76 L324.25,98.33 L324.50,90.96 L324.75,85.43 L325.00,82.17 L325.25,81.21 L325.50,82.30 L325.75,85.37 L326.00,89.70 L326.25,95.40 L326.50,102.05 L326.75,110.47 L327.00,119.21 L327.25,129.02 L327.50,139.14 L327.75,149.31 L328.00,159.70 L328.25,169.63 L328.50,179.54 L328.75,188.56 L329.00,197.32 L329.25,204.84 L329.50,211.63 L329.75,217.25 L330.00,221.84 L330.25,225.80 L330.50,228.64 L330.75,230.99 L331.00,232.53 L331.25,233.46 L331.50,234.41 L331.75,234.95 L332.00,235.18 L332.25,235.47 L332.50,235.46 L332.75,234.70 L333.00,233.81 L333.25,232.06 L333.50,230.14 L333.75,226.85 L334.00,222.16 L334.25,216.75 L334.50,209.63 L334.75,200.89 L335.00,191.14 L335.25,180.18 L335.50,168.76 L335.75,156.25 L336.00,144.15 L336.25,132.50 L336.50,120.92 L336.75,110.78 L337.00,101.97 L337.25,94.90 L337.50,90.22 L337.75,87.69 L338.00,87.17 L338.25,88.79 L338.50,91.88 L338.75,96.28 L339.00,101.65 L339.25,108.73 L339.50,116.65 L339.75,125.91 L340.00,135.34 L340.25,145.25 L340.50,155.09 L340.75,165.10 L341.00,175.10 L341.25,184.49 L341.50,193.14 L341.75,201.36 L342.00,208.67 L342.25,214.95 L342.50,220.16 L342.75,224.47 L343.00,228.33 L343.25,231.16 L343.50,233.16 L343.75,234.64 L344.00,235.68 L344.25,236.63 L344.50,237.00 L344.75,237.28 L345.00,237.14 L345.25,236.96 L345.50,236.50 L345.75,235.29 L346.00,233.60 L346.25,231.26 L346.50,227.97 L346.75,223.06 L347.00,217.13 L347.25,209.37 L347.50,200.47 L347.75,190.20 L348.00,179.20 L348.25,167.63 L348.50,155.18 L348.75,142.93 L349.00,131.00 L349.25,119.74 L349.50,109.75 L349.75,101.40 L350.00,94.94 L350.25,90.49 L350.50,88.36 L350.75,88.41 L351.00,90.00 L351.25,93.33 L351.50,97.93 L351.75,104.24 L352.00,110.97 L352.25,119.44 L352.50,128.81 L352.75,137.97 L353.00,147.77 L353.25,157.99 L353.50,168.16 L353.75,177.63 L354.00,186.98 L354.25,195.50 L354.50,203.28 L354.75,210.81 L355.00,216.44 L355.25,221.51 L355.50,225.75 L355.75,229.23 L356.00,231.80 L356.25,233.74 L356.50,235.01 L356.75,235.74 L357.00,236.72 L357.25,237.02 L357.50,237.22 L357.75,237.01 L358.00,236.85 L358.25,236.17 L358.50,235.14 L358.75,233.17 L359.00,230.79 L359.25,227.14 L359.50,222.07 L359.75,215.93 L360.00,208.32 L360.25,199.71 L360.50,189.17 L360.75,178.54 L361.00,166.71 L361.25,154.95 L361.50,143.24 L361.75,131.56 L362.00,121.07 L362.25,111.54 L362.50,104.14 L362.75,98.05 L363.00,94.23 L363.25,92.25 L363.50,92.72 L363.75,95.03 L364.00,98.28 L364.25,103.09 L364.50,109.25 L364.75,116.19 L365.00,124.60 L365.25,133.31 L365.50,142.73 L365.75,152.20 L366.00,162.12 L366.25,171.55 L366.50,181.10 L366.75,189.95 L367.00,198.10 L367.25,205.48 L367.50,212.10 L367.75,217.31 L368.00,222.64 L368.25,226.39 L368.50,229.52 L368.75,231.79 L369.00,233.34 L369.25,234.69 L369.50,235.74 L369.75,236.47 L370.00,236.54 L370.25,236.63 L370.50,236.89 L370.75,236.15 L371.00,235.84 L371.25,234.28 L371.50,232.21 L371.75,229.69 L372.00,225.90 L372.25,220.29 L372.50,214.27 L372.75,206.17 L373.00,197.35 L373.25,186.88 L373.50,175.62 L373.75,164.27 L374.00,152.42 L374.25,140.81 L374.50,129.50 L374.75,119.01 L375.00,109.82 L375.25,102.37 L375.50,96.89 L375.75,93.42 L376.00,92.36 L376.25,92.78 L376.50,95.45 L376.75,99.11 L377.00,104.55 L377.25,110.53 L377.50,117.67 L377.75,126.02 L378.00,134.63 L378.25,144.07 L378.50,153.48 L378.75,163.61 L379.00,172.97 L379.25,181.83 L379.50,190.62 L379.75,198.73 L380.00,205.86 L380.25,212.19 L380.50,217.47 L380.75,222.07 L381.00,225.87 L381.25,228.86 L381.50,230.76 L381.75,232.28 L382.00,233.74 L382.25,234.22 L382.50,235.06 L382.75,235.25 L383.00,235.43 L383.25,235.49 L383.50,234.97 L383.75,234.24 L384.00,232.75 L384.25,230.88 L384.50,228.32 L384.75,224.64 L385.00,219.60 L385.25,213.46 L385.50,205.61 L385.75,196.87 L386.00,187.25 L386.25,176.56 L386.50,165.51 L386.75,154.14 L387.00,143.41 L387.25,132.63 L387.50,123.32 L387.75,114.77 L388.00,108.48 L388.25,103.33 L388.50,100.82 L388.75,99.79 L389.00,100.97 L389.25,103.64 L389.50,107.12 L389.75,112.29 L390.00,118.38 L390.25,125.27 L390.50,133.62 L390.75,142.22 L391.00,150.98 L391.25,160.44 L391.50,169.45 L391.75,178.46 L392.00,187.29 L392.25,195.35 L392.50,203.32 L392.75,209.53 L393.00,215.85 L393.25,221.01 L393.50,224.83 L393.75,228.31 L394.00,231.34 L394.25,233.20 L394.50,234.82 L394.75,236.01 L395.00,236.58 L395.25,237.04 L395.50,237.13 L395.75,237.69 L396.00,237.57 L396.25,237.80 L396.50,237.83" fill="none" stroke="#ff8c96" stroke-opacity="0.18" stroke-width="3" stroke-linejoin="round"/>
<path d="M53.00,242.85 L53.25,242.70 L53.50,241.86 L53.75,240.87 L54.00,239.13 L54.25,236.61 L54.50,233.70 L54.75,229.10 L55.00,223.94 L55.25,217.35 L55.50,209.41 L55.75,200.96 L56.00,191.72 L56.25,181.87 L56.50,171.81 L56.75,162.19 L57.00,152.57 L57.25,143.97 L57.50,136.24 L57.75,130.10 L58.00,125.31 L58.25,122.56 L58.50,121.69 L58.75,122.25 L59.00,124.08 L59.25,127.10 L59.50,131.54 L59.75,136.85 L60.00,142.93 L60.25,149.78 L60.50,157.47 L60.75,165.65 L61.00,173.34 L61.25,181.58 L61.50,189.61 L61.75,196.89 L62.00,204.58 L62.25,211.20 L62.50,217.61 L62.75,222.74 L63.00,227.30 L63.25,231.26 L63.50,234.46 L63.75,236.80 L64.00,238.73 L64.25,239.90 L64.50,241.06 L64.75,241.95 L65.00,242.66 L65.25,242.80 L65.50,242.84 L65.75,242.86 L66.00,242.44 L66.25,241.81 L66.50,240.58 L66.75,238.68 L67.00,236.29 L67.25,232.92 L67.50,228.55 L67.75,223.05 L68.00,216.33 L68.25,208.55 L68.50,200.30 L68.75,190.95 L69.00,181.69 L69.25,171.96 L69.50,162.15 L69.75,153.44 L70.00,145.21 L70.25,137.96 L70.50,132.43 L70.75,128.29 L71.00,125.42 L71.25,125.18 L71.50,125.96 L71.75,128.05 L72.00,131.38 L72.25,135.47 L72.50,140.80 L72.75,146.92 L73.00,153.77 L73.25,161.24 L73.50,168.76 L73.75,176.72 L74.00,184.86 L74.25,192.50 L74.50,200.00 L74.75,206.65 L75.00,213.24 L75.25,219.07 L75.50,224.24 L75.75,228.51 L76.00,232.36 L76.25,235.12 L76.50,237.40 L76.75,239.10 L77.00,240.45 L77.25,241.20 L77.50,242.12 L77.75,242.51 L78.00,242.75 L78.25,242.80 L78.50,242.71 L78.75,242.33 L79.00,241.51 L79.25,240.17 L79.50,238.39 L79.75,235.65 L80.00,232.26 L80.25,227.45 L80.50,221.42 L80.75,215.12 L81.00,207.13 L81.25,198.30 L81.50,189.16 L81.75,179.39 L82.00,170.09 L82.25,160.34 L82.50,151.07 L82.75,143.30 L83.00,136.25 L83.25,131.12 L83.50,126.83 L83.75,124.60 L84.00,124.71 L84.25,125.77 L84.50,128.09 L84.75,131.33 L85.00,136.27 L85.25,141.97 L85.50,147.76 L85.75,155.20 L86.00,162.42 L86.25,170.66 L86.50,178.31 L86.75,186.12 L87.00,194.03 L87.25,201.32 L87.50,208.06 L87.75,214.59 L88.00,220.07 L88.25,224.84 L88.50,229.64 L88.75,232.77 L89.00,235.52 L89.25,237.81 L89.50,239.14 L89.75,240.35 L90.00,241.34 L90.25,241.99 L90.50,242.53 L90.75,242.93 L91.00,242.71 L91.25,242.64 L91.50,242.13 L91.75,240.99 L92.00,239.81 L92.25,237.61 L92.50,235.07 L92.75,231.16 L93.00,226.19 L93.25,219.96 L93.50,213.07 L93.75,204.84 L94.00,196.15 L94.25,186.52 L94.50,176.58 L94.75,166.98 L95.00,157.39 L95.25,148.26 L95.50,140.55 L95.75,133.59 L96.00,128.35 L96.25,124.88 L96.50,123.04 L96.75,123.16 L97.00,124.59 L97.25,127.45 L97.50,131.21 L97.75,135.77 L98.00,141.81 L98.25,148.12 L98.50,155.38 L98.75,163.12 L99.00,170.98 L99.25,179.35 L99.50,187.02 L99.75,194.56 L100.00,202.33 L100.25,208.96 L100.50,215.27 L100.75,220.48 L101.00,225.96 L101.25,230.06 L101.50,233.45 L101.75,236.17 L102.00,238.33 L102.25,239.60 L102.50,240.87 L102.75,241.45 L103.00,242.12 L103.25,242.74 L103.50,242.84 L103.75,242.56 L104.00,242.54 L104.25,241.88 L104.50,240.84 L104.75,239.60 L105.00,237.41 L105.25,234.36 L105.50,230.60 L105.75,226.17 L106.00,219.74 L106.25,213.06 L106.50,205.26 L106.75,196.67 L107.00,187.28 L107.25,178.05 L107.50,168.79 L107.75,159.91 L108.00,151.37 L108.25,143.94 L108.50,138.13 L108.75,133.49 L109.00,130.36 L109.25,128.94 L109.50,129.45 L109.75,130.95 L110.00,133.76 L110.25,137.23 L110.50,142.20 L110.75,147.80 L111.00,154.01 L111.25,161.15 L111.50,168.46 L111.75,175.97 L112.00,183.74 L112.25,191.02 L112.50,198.54 L112.75,205.54 L113.00,211.95 L113.25,217.92 L113.50,222.77 L113.75,227.21 L114.00,231.25 L114.25,234.37 L114.50,237.05 L114.75,238.67 L115.00,239.82 L115.25,241.08 L115.50,241.59 L115.75,242.05 L116.00,243.03 L116.25,242.84 L116.50,242.83 L116.75,242.48 L117.00,242.01 L117.25,240.71 L117.50,239.23 L117.75,236.57 L118.00,233.30 L118.25,229.48 L118.50,224.13 L118.75,217.52 L119.00,209.96 L119.25,201.50 L119.50,192.20 L119.75,182.85 L120.00,172.84 L120.25,163.04 L120.50,153.67 L120.75,145.18 L121.00,137.59 L121.25,131.46 L121.50,126.60 L121.75,124.03 L122.00,123.33 L122.25,123.55 L122.50,125.49 L122.75,128.73 L123.00,132.94 L123.25,138.10 L123.50,143.87 L123.75,151.02 L124.00,158.17 L124.25,166.02 L124.50,174.23 L124.75,182.16 L125.00,190.24 L125.25,198.23 L125.50,205.07 L125.75,211.73 L126.00,217.51 L126.25,222.87 L126.50,227.39 L126.75,231.30 L127.00,234.32 L127.25,236.81 L127.50,238.72 L127.75,239.95 L128.00,240.88 L128.25,241.62 L128.50,242.43 L128.75,242.70 L129.00,242.95 L129.25,242.84 L129.50,242.24 L129.75,241.66 L130.00,240.17 L130.25,238.99 L130.50,236.34 L130.75,232.71 L131.00,228.11 L131.25,222.76 L131.50,215.74 L131.75,208.19 L132.00,199.81 L132.25,190.41 L132.50,180.58 L132.75,170.91 L133.00,160.89 L133.25,151.87 L133.50,143.35 L133.75,136.04 L134.00,130.37 L134.25,125.91 L134.50,123.90 L134.75,122.94 L135.00,124.21 L135.25,125.87 L135.50,129.44 L135.75,133.58 L136.00,138.96 L136.25,145.45 L136.50,152.48 L136.75,159.69 L137.00,167.91 L137.25,175.65 L137.50,183.82 L137.75,191.73 L138.00,199.32 L138.25,206.07 L138.50,213.12 L138.75,218.85 L139.00,223.88 L139.25,228.22 L139.50,231.80 L139.75,234.82 L140.00,237.41 L140.25,239.00 L140.50,240.15 L140.75,241.18 L141.00,242.18 L141.25,242.39 L141.50,242.64 L141.75,243.00 L142.00,242.70 L142.25,242.17 L142.50,241.26 L142.75,239.82 L143.00,237.97 L143.25,235.35 L143.50,231.70 L143.75,227.00 L144.00,221.10 L144.25,214.00 L144.50,205.92 L144.75,196.78 L145.00,186.99 L145.25,177.22 L145.50,167.06 L145.75,157.25 L146.00,148.02 L146.25,139.50 L146.50,132.37 L146.75,126.84 L147.00,122.90 L147.25,120.65 L147.50,120.58 L147.75,121.63 L148.00,123.93 L148.25,127.71 L148.50,132.70 L148.75,138.03 L149.00,144.86 L149.25,152.13 L149.50,159.89 L149.75,167.62 L150.00,176.27 L150.25,184.18 L150.50,192.12 L150.75,199.76 L151.00,207.04 L151.25,213.52 L151.50,219.36 L151.75,224.72 L152.00,228.79 L152.25,232.36 L152.50,235.52 L152.75,237.74 L153.00,239.46 L153.25,240.35 L153.50,241.56 L153.75,242.13 L154.00,242.78 L154.25,242.57 L154.50,242.81 L154.75,242.52 L155.00,241.80 L155.25,241.04 L155.50,239.93 L155.75,237.67 L156.00,234.78 L156.25,231.19 L156.50,226.28 L156.75,220.24 L157.00,212.84 L157.25,204.83 L157.50,196.05 L157.75,186.25 L158.00,176.37 L158.25,166.71 L158.50,157.23 L158.75,147.86 L159.00,139.64 L159.25,133.06 L159.50,127.87 L159.75,124.45 L160.00,122.85 L160.25,122.81 L160.50,124.11 L160.75,126.86 L161.00,130.47 L161.25,135.44 L161.50,141.14 L161.75,148.22 L162.00,155.16 L162.25,162.60 L162.50,170.55 L162.75,178.71 L163.00,186.55 L163.25,194.48 L163.50,201.89 L163.75,209.05 L164.00,215.16 L164.25,220.74 L164.50,225.55 L164.75,229.72 L165.00,233.29 L165.25,235.97 L165.50,238.24 L165.75,239.51 L166.00,240.89 L166.25,241.60 L166.50,242.17 L166.75,242.28 L167.00,242.59 L167.25,242.87 L167.50,242.69 L167.75,241.92 L168.00,241.00 L168.25,239.30 L168.50,237.07 L168.75,233.91 L169.00,230.01 L169.25,224.63 L169.50,218.10 L169.75,210.55 L170.00,202.16 L170.25,192.80 L170.50,182.73 L170.75,172.95 L171.00,162.60 L171.25,152.82 L171.50,144.01 L171.75,135.95 L172.00,129.14 L172.25,124.17 L172.50,120.65 L172.75,119.34 L173.00,119.48 L173.25,121.68 L173.50,124.15 L173.75,128.64 L174.00,133.59 L174.25,139.68 L174.50,146.70 L174.75,154.30 L175.00,162.31 L175.25,170.71 L175.50,178.80 L175.75,187.08 L176.00,194.79 L176.25,202.51 L176.50,209.41 L176.75,215.67 L177.00,221.35 L177.25,226.23 L177.50,230.38 L177.75,233.75 L178.00,236.25 L178.25,238.22 L178.50,239.92 L178.75,240.64 L179.00,241.59 L179.25,242.50 L179.50,242.23 L179.75,242.69 L180.00,242.83 L180.25,242.13 L180.50,242.06 L180.75,240.14 L181.00,239.00 L181.25,236.48 L181.50,232.88 L181.75,228.08 L182.00,222.33 L182.25,215.09 L182.50,207.15 L182.75,197.66 L183.00,187.79 L183.25,177.44 L183.50,166.36 L183.75,155.83 L184.00,145.74 L184.25,136.17 L184.50,128.36 L184.75,121.54 L185.00,116.28 L185.25,113.43 L185.50,112.28 L185.75,112.99 L186.00,115.14 L186.25,118.37 L186.50,123.19 L186.75,128.61 L187.00,135.49 L187.25,142.77 L187.50,150.94 L187.75,159.20 L188.00,167.91 L188.25,176.56 L188.50,185.42 L188.75,193.76 L189.00,201.75 L189.25,208.86 L189.50,215.24 L189.75,220.94 L190.00,226.00 L190.25,230.09 L190.50,233.67 L190.75,236.22 L191.00,237.93 L191.25,239.40 L191.50,240.76 L191.75,241.36 L192.00,241.82 L192.25,242.35 L192.50,242.20 L192.75,242.08 L193.00,241.62 L193.25,240.57 L193.50,239.65 L193.75,237.31 L194.00,234.47 L194.25,230.42 L194.50,225.37 L194.75,218.67 L195.00,210.80 L195.25,201.45 L195.50,191.54 L195.75,180.38 L196.00,169.17 L196.25,157.54 L196.50,146.04 L196.75,135.50 L197.00,125.40 L197.25,116.87 L197.50,109.90 L197.75,104.87 L198.00,102.16 L198.25,101.49 L198.50,102.17 L198.75,105.02 L199.00,108.83 L199.25,114.08 L199.50,120.35 L199.75,127.44 L200.00,135.62 L200.25,144.86 L200.50,153.83 L200.75,163.00 L201.00,172.69 L201.25,181.80 L201.50,190.43 L201.75,198.69 L202.00,206.45 L202.25,213.62 L202.50,219.62 L202.75,224.77 L203.00,229.15 L203.25,232.65 L203.50,234.92 L203.75,237.18 L204.00,238.55 L204.25,239.53 L204.50,240.37 L204.75,240.93 L205.00,241.19 L205.25,241.03 L205.50,240.95 L205.75,240.77 L206.00,239.33 L206.25,237.67 L206.50,235.62 L206.75,232.33 L207.00,227.78 L207.25,221.68 L207.50,214.74 L207.75,205.85 L208.00,195.94 L208.25,185.09 L208.50,173.46 L208.75,161.40 L209.00,149.10 L209.25,137.02 L209.50,125.89 L209.75,115.60 L210.00,107.04 L210.25,99.81 L210.50,94.97 L210.75,92.74 L211.00,92.12 L211.25,93.68 L211.50,96.64 L211.75,100.95 L212.00,106.66 L212.25,113.83 L212.50,121.15 L212.75,130.39 L213.00,139.94 L213.25,149.33 L213.50,159.22 L213.75,169.18 L214.00,178.96 L214.25,187.68 L214.50,196.45 L214.75,204.27 L215.00,211.41 L215.25,217.49 L215.50,222.78 L215.75,226.92 L216.00,230.41 L216.25,232.92 L216.50,234.85 L216.75,236.31 L217.00,237.28 L217.25,237.86 L217.50,238.76 L217.75,238.77 L218.00,238.61 L218.25,238.76 L218.50,237.91 L218.75,237.04 L219.00,235.24 L219.25,232.70 L219.50,229.00 L219.75,223.90 L220.00,217.58 L220.25,209.99 L220.50,200.03 L220.75,189.77 L221.00,178.15 L221.25,165.46 L221.50,152.52 L221.75,140.12 L222.00,127.20 L222.25,115.86 L222.50,105.17 L222.75,96.27 L223.00,89.46 L223.25,84.84 L223.50,82.68 L223.75,82.66 L224.00,84.44 L224.25,87.87 L224.50,92.98 L224.75,99.23 L225.00,106.53 L225.25,115.19 L225.50,124.79 L225.75,134.70 L226.00,145.18 L226.25,155.67 L226.50,166.27 L226.75,176.57 L227.00,186.37 L227.25,195.28 L227.50,203.86 L227.75,210.91 L228.00,217.82 L228.25,222.92 L228.50,227.31 L228.75,230.70 L229.00,233.06 L229.25,235.45 L229.50,236.93 L229.75,238.21 L230.00,238.42 L230.25,239.34 L230.50,239.21 L230.75,239.31 L231.00,238.50 L231.25,238.20 L231.50,236.89 L231.75,235.09 L232.00,232.10 L232.25,227.82 L232.50,222.67 L232.75,215.67 L233.00,207.18 L233.25,197.32 L233.50,186.11 L233.75,173.68 L234.00,160.47 L234.25,147.10 L234.50,134.20 L234.75,121.30 L235.00,109.34 L235.25,98.77 L235.50,90.11 L235.75,83.46 L236.00,79.10 L236.25,77.25 L236.50,78.17 L236.75,80.09 L237.00,83.81 L237.25,89.09 L237.50,95.96 L237.75,104.20 L238.00,113.25 L238.25,122.97 L238.50,133.45 L238.75,144.17 L239.00,154.92 L239.25,166.02 L239.50,176.27 L239.75,186.43 L240.00,195.08 L240.25,203.47 L240.50,210.99 L240.75,217.19 L241.00,222.37 L241.25,226.80 L241.50,230.38 L241.75,233.01 L242.00,234.83 L242.25,236.33 L242.50,237.27 L242.75,237.80 L243.00,238.14 L243.25,238.26 L243.50,238.31 L243.75,238.00 L244.00,237.10 L244.25,235.82 L244.50,233.62 L244.75,230.38 L245.00,226.15 L245.25,220.72 L245.50,213.50 L245.75,204.99 L246.00,194.67 L246.25,183.45 L246.50,171.20 L246.75,158.17 L247.00,144.66 L247.25,131.60 L247.50,119.10 L247.75,107.41 L248.00,97.55 L248.25,89.36 L248.50,82.99 L248.75,79.57 L249.00,77.96 L249.25,78.82 L249.50,81.34 L249.75,85.40 L250.00,91.21 L250.25,98.15 L250.50,106.58 L250.75,115.59 L251.00,125.52 L251.25,135.87 L251.50,146.44 L251.75,157.44 L252.00,167.95 L252.25,178.47 L252.50,187.99 L252.75,197.18 L253.00,205.13 L253.25,212.29 L253.50,218.34 L253.75,223.48 L254.00,227.71 L254.25,231.01 L254.50,233.20 L254.75,235.16 L255.00,236.74 L255.25,237.22 L255.50,237.80 L255.75,238.08 L256.00,238.08 L256.25,238.34 L256.50,237.72 L256.75,236.83 L257.00,235.51 L257.25,233.19 L257.50,229.14 L257.75,224.54 L258.00,218.07 L258.25,210.02 L258.50,200.43 L258.75,189.27 L259.00,177.14 L259.25,163.64 L259.50,149.61 L259.75,135.55 L260.00,121.54 L260.25,108.24 L260.50,96.17 L260.75,85.96 L261.00,77.35 L261.25,71.18 L261.50,67.55 L261.75,66.79 L262.00,67.95 L262.25,71.17 L262.50,75.94 L262.75,81.92 L263.00,89.98 L263.25,99.05 L263.50,108.96 L263.75,119.54 L264.00,131.13 L264.25,142.35 L264.50,153.79 L264.75,165.09 L265.00,176.08 L265.25,186.40 L265.50,195.80 L265.75,204.09 L266.00,211.29 L266.25,217.71 L266.50,222.94 L266.75,227.28 L267.00,230.32 L267.25,233.04 L267.50,234.87 L267.75,235.98 L268.00,236.92 L268.25,237.29 L268.50,237.53 L268.75,237.73 L269.00,237.83 L269.25,237.30 L269.50,236.09 L269.75,234.69 L270.00,231.94 L270.25,228.56 L270.50,223.42 L270.75,216.79 L271.00,208.92 L271.25,199.11 L271.50,188.10 L271.75,175.85 L272.00,163.03 L272.25,149.38 L272.50,135.64 L272.75,122.19 L273.00,109.85 L273.25,98.18 L273.50,88.40 L273.75,80.97 L274.00,75.59 L274.25,72.53 L274.50,71.88 L274.75,73.63 L275.00,77.10 L275.25,81.94 L275.50,88.60 L275.75,95.93 L276.00,105.16 L276.25,114.82 L276.50,125.66 L276.75,136.45 L277.00,147.82 L277.25,158.73 L277.50,169.50 L277.75,179.96 L278.00,189.78 L278.25,198.66 L278.50,207.00 L278.75,214.03 L279.00,219.84 L279.25,224.57 L279.50,228.65 L279.75,231.60 L280.00,234.16 L280.25,235.61 L280.50,236.77 L280.75,237.43 L281.00,237.70 L281.25,238.12 L281.50,238.07 L281.75,238.04 L282.00,237.37 L282.25,236.11 L282.50,234.34 L282.75,231.88 L283.00,227.58 L283.25,222.30 L283.50,215.60 L283.75,207.17 L284.00,197.36 L284.25,186.28 L284.50,174.12 L284.75,160.42 L285.00,147.07 L285.25,133.43 L285.50,120.19 L285.75,107.82 L286.00,96.76 L286.25,87.66 L286.50,80.20 L286.75,75.35 L287.00,73.01 L287.25,73.13 L287.50,75.00 L287.75,78.78 L288.00,83.83 L288.25,90.51 L288.50,98.43 L288.75,107.34 L289.00,117.30 L289.25,127.83 L289.50,138.98 L289.75,149.95 L290.00,160.91 L290.25,171.80 L290.50,182.03 L290.75,191.18 L291.00,200.35 L291.25,207.82 L291.50,214.51 L291.75,220.36 L292.00,224.87 L292.25,228.45 L292.50,231.67 L292.75,233.24 L293.00,234.85 L293.25,236.00 L293.50,236.40 L293.75,236.97 L294.00,237.23 L294.25,237.47 L294.50,236.66 L294.75,236.08 L295.00,234.96 L295.25,232.94 L295.50,229.89 L295.75,226.11 L296.00,220.70 L296.25,213.92 L296.50,205.71 L296.75,195.97 L297.00,184.88 L297.25,172.84 L297.50,159.89 L297.75,146.94 L298.00,133.95 L298.25,121.32 L298.50,109.77 L298.75,99.36 L299.00,91.16 L299.25,84.75 L299.50,80.15 L299.75,78.51 L300.00,78.90 L300.25,81.29 L300.50,84.93 L300.75,90.14 L301.00,96.74 L301.25,104.63 L301.50,113.31 L301.75,123.21 L302.00,133.21 L302.25,143.94 L302.50,154.50 L302.75,165.15 L303.00,175.13 L303.25,184.91 L303.50,193.54 L303.75,201.88 L304.00,208.95 L304.25,215.23 L304.50,220.43 L304.75,224.82 L305.00,227.71 L305.25,230.59 L305.50,232.15 L305.75,233.86 L306.00,234.29 L306.25,235.09 L306.50,235.39 L306.75,236.04 L307.00,235.53 L307.25,235.38 L307.50,234.52 L307.75,233.02 L308.00,231.19 L308.25,228.32 L308.50,223.98 L308.75,218.57 L309.00,211.33 L309.25,202.88 L309.50,192.93 L309.75,181.92 L310.00,170.07 L310.25,157.11 L310.50,144.08 L310.75,131.09 L311.00,118.77 L311.25,107.80 L311.50,97.53 L311.75,89.45 L312.00,83.55 L312.25,79.79 L312.50,78.89 L312.75,79.08 L313.00,81.96 L313.25,86.07 L313.50,91.32 L313.75,98.25 L314.00,106.44 L314.25,115.61 L314.50,124.97 L314.75,135.13 L315.00,146.06 L315.25,156.73 L315.50,166.87 L315.75,176.63 L316.00,186.66 L316.25,195.18 L316.50,203.31 L316.75,210.14 L317.00,216.12 L317.25,221.15 L317.50,225.52 L317.75,228.70 L318.00,230.56 L318.25,232.49 L318.50,234.13 L318.75,234.69 L319.00,235.13 L319.25,235.68 L319.50,235.76 L319.75,235.64 L320.00,235.14 L320.25,234.30 L320.50,232.85 L320.75,230.77 L321.00,227.41 L321.25,223.08 L321.50,217.34 L321.75,210.35 L322.00,201.57 L322.25,191.53 L322.50,180.50 L322.75,168.47 L323.00,155.99 L323.25,143.13 L323.50,130.78 L323.75,118.81 L324.00,107.76 L324.25,98.33 L324.50,90.96 L324.75,85.43 L325.00,82.17 L325.25,81.21 L325.50,82.30 L325.75,85.37 L326.00,89.70 L326.25,95.40 L326.50,102.05 L326.75,110.47 L327.00,119.21 L327.25,129.02 L327.50,139.14 L327.75,149.31 L328.00,159.70 L328.25,169.63 L328.50,179.54 L328.75,188.56 L329.00,197.32 L329.25,204.84 L329.50,211.63 L329.75,217.25 L330.00,221.84 L330.25,225.80 L330.50,228.64 L330.75,230.99 L331.00,232.53 L331.25,233.46 L331.50,234.41 L331.75,234.95 L332.00,235.18 L332.25,235.47 L332.50,235.46 L332.75,234.70 L333.00,233.81 L333.25,232.06 L333.50,230.14 L333.75,226.85 L334.00,222.16 L334.25,216.75 L334.50,209.63 L334.75,200.89 L335.00,191.14 L335.25,180.18 L335.50,168.76 L335.75,156.25 L336.00,144.15 L336.25,132.50 L336.50,120.92 L336.75,110.78 L337.00,101.97 L337.25,94.90 L337.50,90.22 L337.75,87.69 L338.00,87.17 L338.25,88.79 L338.50,91.88 L338.75,96.28 L339.00,101.65 L339.25,108.73 L339.50,116.65 L339.75,125.91 L340.00,135.34 L340.25,145.25 L340.50,155.09 L340.75,165.10 L341.00,175.10 L341.25,184.49 L341.50,193.14 L341.75,201.36 L342.00,208.67 L342.25,214.95 L342.50,220.16 L342.75,224.47 L343.00,228.33 L343.25,231.16 L343.50,233.16 L343.75,234.64 L344.00,235.68 L344.25,236.63 L344.50,237.00 L344.75,237.28 L345.00,237.14 L345.25,236.96 L345.50,236.50 L345.75,235.29 L346.00,233.60 L346.25,231.26 L346.50,227.97 L346.75,223.06 L347.00,217.13 L347.25,209.37 L347.50,200.47 L347.75,190.20 L348.00,179.20 L348.25,167.63 L348.50,155.18 L348.75,142.93 L349.00,131.00 L349.25,119.74 L349.50,109.75 L349.75,101.40 L350.00,94.94 L350.25,90.49 L350.50,88.36 L350.75,88.41 L351.00,90.00 L351.25,93.33 L351.50,97.93 L351.75,104.24 L352.00,110.97 L352.25,119.44 L352.50,128.81 L352.75,137.97 L353.00,147.77 L353.25,157.99 L353.50,168.16 L353.75,177.63 L354.00,186.98 L354.25,195.50 L354.50,203.28 L354.75,210.81 L355.00,216.44 L355.25,221.51 L355.50,225.75 L355.75,229.23 L356.00,231.80 L356.25,233.74 L356.50,235.01 L356.75,235.74 L357.00,236.72 L357.25,237.02 L357.50,237.22 L357.75,237.01 L358.00,236.85 L358.25,236.17 L358.50,235.14 L358.75,233.17 L359.00,230.79 L359.25,227.14 L359.50,222.07 L359.75,215.93 L360.00,208.32 L360.25,199.71 L360.50,189.17 L360.75,178.54 L361.00,166.71 L361.25,154.95 L361.50,143.24 L361.75,131.56 L362.00,121.07 L362.25,111.54 L362.50,104.14 L362.75,98.05 L363.00,94.23 L363.25,92.25 L363.50,92.72 L363.75,95.03 L364.00,98.28 L364.25,103.09 L364.50,109.25 L364.75,116.19 L365.00,124.60 L365.25,133.31 L365.50,142.73 L365.75,152.20 L366.00,162.12 L366.25,171.55 L366.50,181.10 L366.75,189.95 L367.00,198.10 L367.25,205.48 L367.50,212.10 L367.75,217.31 L368.00,222.64 L368.25,226.39 L368.50,229.52 L368.75,231.79 L369.00,233.34 L369.25,234.69 L369.50,235.74 L369.75,236.47 L370.00,236.54 L370.25,236.63 L370.50,236.89 L370.75,236.15 L371.00,235.84 L371.25,234.28 L371.50,232.21 L371.75,229.69 L372.00,225.90 L372.25,220.29 L372.50,214.27 L372.75,206.17 L373.00,197.35 L373.25,186.88 L373.50,175.62 L373.75,164.27 L374.00,152.42 L374.25,140.81 L374.50,129.50 L374.75,119.01 L375.00,109.82 L375.25,102.37 L375.50,96.89 L375.75,93.42 L376.00,92.36 L376.25,92.78 L376.50,95.45 L376.75,99.11 L377.00,104.55 L377.25,110.53 L377.50,117.67 L377.75,126.02 L378.00,134.63 L378.25,144.07 L378.50,153.48 L378.75,163.61 L379.00,172.97 L379.25,181.83 L379.50,190.62 L379.75,198.73 L380.00,205.86 L380.25,212.19 L380.50,217.47 L380.75,222.07 L381.00,225.87 L381.25,228.86 L381.50,230.76 L381.75,232.28 L382.00,233.74 L382.25,234.22 L382.50,235.06 L382.75,235.25 L383.00,235.43 L383.25,235.49 L383.50,234.97 L383.75,234.24 L384.00,232.75 L384.25,230.88 L384.50,228.32 L384.75,224.64 L385.00,219.60 L385.25,213.46 L385.50,205.61 L385.75,196.87 L386.00,187.25 L386.25,176.56 L386.50,165.51 L386.75,154.14 L387.00,143.41 L387.25,132.63 L387.50,123.32 L387.75,114.77 L388.00,108.48 L388.25,103.33 L388.50,100.82 L388.75,99.79 L389.00,100.97 L389.25,103.64 L389.50,107.12 L389.75,112.29 L390.00,118.38 L390.25,125.27 L390.50,133.62 L390.75,142.22 L391.00,150.98 L391.25,160.44 L391.50,169.45 L391.75,178.46 L392.00,187.29 L392.25,195.35 L392.50,203.32 L392.75,209.53 L393.00,215.85 L393.25,221.01 L393.50,224.83 L393.75,228.31 L394.00,231.34 L394.25,233.20 L394.50,234.82 L394.75,236.01 L395.00,236.58 L395.25,237.04 L395.50,237.13 L395.75,237.69 L396.00,237.57 L396.25,237.80 L396.50,237.83" fill="none" stroke="#d91c1c" stroke-width="1.0" stroke-linejoin="round"/>
<text x="441.8" y="51.2" font-size="20" text-anchor="start" font-weight="bold" fill="#000" textLength="17.8" lengthAdjust="spacingAndGlyphs">B)</text>
<text x="574.3" y="43.9" font-size="13" text-anchor="start" font-weight="normal" fill="#1a1a1a" textLength="18.2" lengthAdjust="spacingAndGlyphs" stroke="#1a1a1a" stroke-width="0.12">DA</text>
<text x="599.8" y="193.2" font-size="13" text-anchor="start" font-weight="normal" fill="#1a1a1a" textLength="23.8" lengthAdjust="spacingAndGlyphs" stroke="#1a1a1a" stroke-width="0.12">CAT</text>
<g stroke="#666" stroke-width="1.05" fill="none"><line x1="444.2" y1="117" x2="444.2" y2="168.4"/><line x1="436.3" y1="117" x2="453" y2="117"/><line x1="436.3" y1="168.4" x2="453" y2="168.4"/></g>
<text x="450.3" y="145" font-size="11.2" text-anchor="start" font-weight="normal" fill="#1a1a1a" textLength="30" lengthAdjust="spacingAndGlyphs" stroke="#1a1a1a" stroke-width="0.12">20 pA</text>
<text x="434.5" y="211.8" font-size="11.2" text-anchor="start" font-weight="normal" fill="#1a1a1a" textLength="47.5" lengthAdjust="spacingAndGlyphs" stroke="#1a1a1a" stroke-width="0.12">Injection</text>
<text x="432" y="226.3" font-size="11.6" text-anchor="start" font-weight="normal" fill="#1a1a1a" textLength="53" lengthAdjust="spacingAndGlyphs" stroke="#1a1a1a" stroke-width="0.12">sequence</text>
<rect x="455.6" y="233.4" width="7.8" height="25.9" fill="none" stroke="#111" stroke-width="1.45" stroke-dasharray="4.5 3.69" stroke-dashoffset="-0.36"/>
<rect x="539.9" y="233.4" width="7.8" height="25.9" fill="none" stroke="#111" stroke-width="1.45" stroke-dasharray="4.5 3.69" stroke-dashoffset="-0.36"/>
<rect x="624.7" y="233.4" width="7.8" height="25.9" fill="none" stroke="#111" stroke-width="1.45" stroke-dasharray="4.5 3.69" stroke-dashoffset="-0.36"/>
<rect x="710.4" y="233.4" width="7.8" height="25.9" fill="none" stroke="#111" stroke-width="1.45" stroke-dasharray="4.5 3.69" stroke-dashoffset="-0.36"/>
<line x1="454.5" y1="265.6" x2="792.5" y2="265.6" stroke="#6e6e6e" stroke-width="1.4"/>
<line x1="454.50" y1="265.5" x2="454.50" y2="269.2" stroke="#555" stroke-width="1"/>
<text x="454.5" y="287.6" font-size="11.4" text-anchor="middle" font-weight="normal" fill="#1a1a1a" stroke="#1a1a1a" stroke-width="0.12">0</text>
<line x1="501.79" y1="265.5" x2="501.79" y2="269.2" stroke="#555" stroke-width="1"/>
<text x="501.79" y="287.6" font-size="11.4" text-anchor="middle" font-weight="normal" fill="#1a1a1a" stroke="#1a1a1a" stroke-width="0.12">20</text>
<line x1="549.07" y1="265.5" x2="549.07" y2="269.2" stroke="#555" stroke-width="1"/>
<text x="549.07" y="287.6" font-size="11.4" text-anchor="middle" font-weight="normal" fill="#1a1a1a" stroke="#1a1a1a" stroke-width="0.12">40</text>
<line x1="596.36" y1="265.5" x2="596.36" y2="269.2" stroke="#555" stroke-width="1"/>
<text x="596.36" y="287.6" font-size="11.4" text-anchor="middle" font-weight="normal" fill="#1a1a1a" stroke="#1a1a1a" stroke-width="0.12">60</text>
<line x1="643.64" y1="265.5" x2="643.64" y2="269.2" stroke="#555" stroke-width="1"/>
<text x="643.64" y="287.6" font-size="11.4" text-anchor="middle" font-weight="normal" fill="#1a1a1a" stroke="#1a1a1a" stroke-width="0.12">80</text>
<line x1="690.93" y1="265.5" x2="690.93" y2="269.2" stroke="#555" stroke-width="1"/>
<text x="690.93" y="287.6" font-size="11.4" text-anchor="middle" font-weight="normal" fill="#1a1a1a" stroke="#1a1a1a" stroke-width="0.12">100</text>
<line x1="738.22" y1="265.5" x2="738.22" y2="269.2" stroke="#555" stroke-width="1"/>
<text x="738.22" y="287.6" font-size="11.4" text-anchor="middle" font-weight="normal" fill="#1a1a1a" stroke="#1a1a1a" stroke-width="0.12">120</text>
<line x1="785.50" y1="265.5" x2="785.50" y2="269.2" stroke="#555" stroke-width="1"/>
<text x="785.5" y="287.6" font-size="11.4" text-anchor="middle" font-weight="normal" fill="#1a1a1a" stroke="#1a1a1a" stroke-width="0.12">140</text>
<text x="597" y="311.2" font-size="12" text-anchor="start" font-weight="normal" fill="#1a1a1a" textLength="53" lengthAdjust="spacingAndGlyphs" stroke="#1a1a1a" stroke-width="0.12">Time (sec)</text>
<path d="M463.40,250.50 L470.00,250.00 L475.00,249.60 L480.00,249.50 L488.00,249.30 L489.50,248.60 L491.50,250.50 L493.00,251.20 L496.50,251.30 L496.60,240.00 L497.00,200.00 L497.50,150.00 L498.00,100.00 L498.50,51.20 L498.90,90.00 L499.40,140.00 L499.90,185.00 L500.40,220.00 L501.40,235.50 L502.80,240.00 L504.70,243.50 L507.30,246.00 L509.90,247.60 L512.50,248.30 L515.50,248.80 L518.50,249.00 L519.90,248.00 L520.90,246.30 L522.30,243.60 L523.60,245.30 L524.20,244.60 L524.40,234.00 L525.30,216.00 L526.10,203.00 L526.60,195.50 L527.20,205.00 L527.80,212.00 L528.20,219.00 L528.75,234.00 L529.50,244.00 L530.50,248.00 L532.60,248.80 L536.60,249.20 L539.90,249.40 M547.40,250.90 L555.00,250.80 L565.00,250.50 L575.00,250.20 L581.30,250.10 L581.60,240.00 L582.00,200.00 L582.50,150.00 L583.00,100.00 L583.50,50.60 L583.90,90.00 L584.40,140.00 L584.90,185.00 L585.40,220.00 L586.40,235.50 L587.80,240.00 L589.70,243.50 L592.30,246.00 L594.90,247.60 L597.50,248.30 L600.50,248.80 L603.50,249.00 L604.90,248.00 L605.90,246.30 L607.30,243.60 L608.60,245.30 L609.20,244.60 L609.40,234.00 L610.30,216.00 L611.10,203.00 L611.60,198.00 L612.20,205.00 L612.80,212.00 L613.20,219.00 L613.75,234.00 L614.50,244.00 L615.50,248.00 L617.60,248.80 L621.60,249.20 L624.70,249.20 M632.40,250.20 L640.00,249.80 L650.00,249.40 L660.00,249.70 L666.40,249.90 L666.70,240.00 L667.10,200.00 L667.60,150.00 L668.10,100.00 L668.60,51.80 L669.00,90.00 L669.50,140.00 L670.00,185.00 L670.50,220.00 L671.50,235.50 L672.90,240.00 L674.80,243.50 L677.40,246.00 L680.00,247.60 L682.60,248.30 L685.60,248.80 L688.60,249.00 L690.00,248.00 L691.00,246.30 L692.50,243.60 L693.80,245.30 L694.40,244.60 L694.60,234.00 L695.50,216.00 L696.30,203.00 L696.80,200.40 L697.40,205.00 L698.00,212.00 L698.40,219.00 L698.95,234.00 L699.70,244.00 L700.70,248.00 L702.80,248.80 L706.80,249.20 L710.40,249.40 M718.40,249.70 L730.00,249.60 L740.00,249.60 L751.20,249.70 L751.50,240.00 L751.90,200.00 L752.40,150.00 L752.90,100.00 L753.40,54.40 L753.80,90.00 L754.30,140.00 L754.80,185.00 L755.30,220.00 L756.30,235.50 L757.70,240.00 L759.60,243.50 L762.20,246.00 L764.80,247.60 L767.40,248.30 L770.40,248.80 L773.40,249.00 L774.80,248.00 L775.80,246.30 L777.50,243.60 L778.80,245.30 L779.40,244.60 L779.60,234.00 L780.50,216.00 L781.30,203.00 L781.80,202.60 L782.40,205.00 L783.00,212.00 L783.40,219.00 L783.95,234.00 L784.70,244.00 L785.70,248.00 L787.80,248.80 L791.80,249.20 L793.00,249.40" fill="none" stroke="#1e1e1e" stroke-width="1.2" stroke-linejoin="round"/>
</svg>
</body></html>
